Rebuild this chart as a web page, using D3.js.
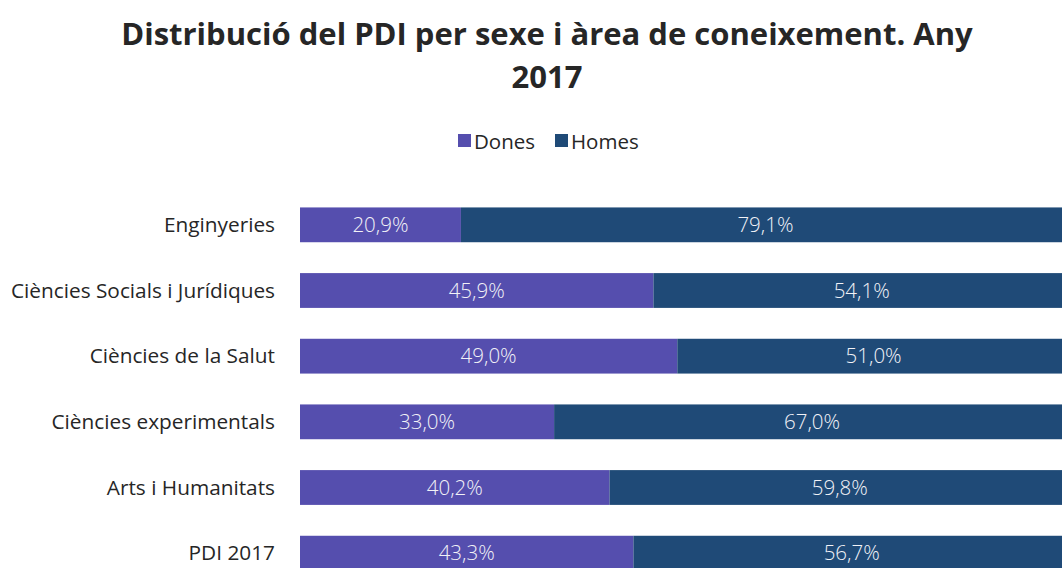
<!DOCTYPE html>
<html><head><meta charset="utf-8">
<script src="https://cdn.jsdelivr.net/npm/d3@7"></script>
<style>body{margin:0;background:#fff}svg{display:block}</style>
</head><body>
<svg id="c" width="1062" height="568"></svg>
<script>
const categories = ["Enginyeries","Ciències Socials i Jurídiques","Ciències de la Salut","Ciències experimentals","Arts i Humanitats","PDI 2017"];
const dones = [20.9,45.9,49.0,33.0,40.2,43.3];
const homes = [79.1,54.1,51.0,67.0,59.8,56.7];
const seriesNames = ["Dones","Homes"];
const colors = ["#554eae","#1f4a77"];
const titleLines = ["Distribució del PDI per sexe i àrea de coneixement. Any","2017"];

const svg = d3.select("#c");
const font = "'Open Sans', sans-serif";
const fmt = v => d3.format(".1f")(v).replace(".", ",") + "%";

svg.append("g").selectAll("text").data(titleLines).join("text")
  .attr("x", 547).attr("y", (d,i)=>45+i*43)
  .attr("text-anchor","middle").attr("font-family",font).attr("font-weight",700)
  .attr("font-size",31).attr("fill","#262626").text(d=>d);

// legend
const lg = svg.append("g");
const legX = [458, 555];
seriesNames.forEach((n,i)=>{
  lg.append("rect").attr("x",legX[i]).attr("y",134).attr("width",13).attr("height",13).attr("fill",colors[i]);
  lg.append("text").attr("x",legX[i]+16).attr("y",148.5).attr("font-family",font).attr("font-size",20.5).attr("fill","#262626").text(n);
});

const x = d3.scaleLinear().domain([0,100]).range([300,1070]);
const y = d3.scaleBand().domain(categories).range([192,586]).paddingInner(0.47).paddingOuter(0.235);

const rows = categories.map((c,i)=>({c, d:dones[i], h:homes[i]}));
const g = svg.append("g");
rows.forEach(r=>{
  const y0 = y(r.c), bh = y.bandwidth();
  g.append("rect").attr("x",x(0)).attr("y",y0).attr("width",x(r.d)-x(0)).attr("height",bh).attr("fill",colors[0]);
  g.append("rect").attr("x",x(r.d)).attr("y",y0).attr("width",x(r.d+r.h)-x(r.d)).attr("height",bh).attr("fill",colors[1]);
  g.append("text").attr("x",(x(0)+x(r.d))/2).attr("y",y0+bh/2+7).attr("text-anchor","middle")
    .attr("font-family",font).attr("font-weight",300).attr("font-size",20.5).attr("fill","#f2f2f7").text(fmt(r.d));
  g.append("text").attr("x",(x(r.d)+x(r.d+r.h))/2).attr("y",y0+bh/2+7).attr("text-anchor","middle")
    .attr("font-family",font).attr("font-weight",300).attr("font-size",20.5).attr("fill","#f2f2f7").text(fmt(r.h));
  g.append("text").attr("x",275).attr("y",y0+bh/2+7).attr("text-anchor","end")
    .attr("font-family",font).attr("font-size",20.8).attr("fill","#262626").text(r.c);
});
</script>
</body></html>
